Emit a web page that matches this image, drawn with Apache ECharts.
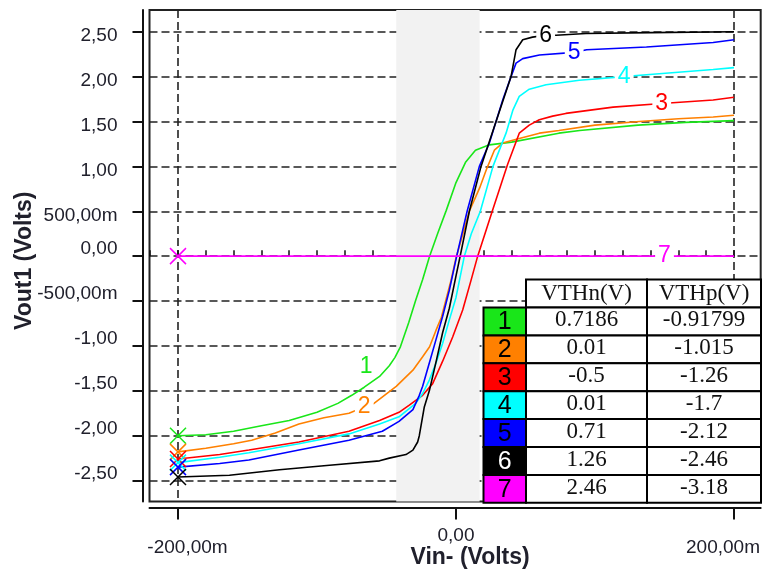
<!DOCTYPE html>
<html>
<head>
<meta charset="utf-8">
<script src="https://cdn.jsdelivr.net/npm/echarts@6/dist/echarts.min.js"></script>
<style>
html, body { margin: 0; padding: 0; background: #fff; }
#chart { width: 762px; height: 571px; }
</style>
</head>
<body>
<div id="chart"></div>
<script>
// Transfer curves Vout1 vs Vin- (Vin- in mV, Vout1 in V), one pair of arrays per threshold set
const vin1  = [-200,-180,-160,-140,-120,-100,-85,-75,-66,-55,-48,-44,-40,-34,-29,-24,-19,-13,-7,0,7,14,24,40,74,89,131,165,200];
const vout1 = [-2.00,-1.99,-1.95,-1.89,-1.83,-1.74,-1.64,-1.55,-1.46,-1.34,-1.22,-1.13,-1.01,-0.74,-0.49,-0.26,0.00,0.26,0.51,0.82,1.05,1.18,1.24,1.27,1.37,1.40,1.46,1.49,1.51];

const vin2  = [-200,-180,-160,-147,-130,-113,-95,-77,-66,-59,-43,-31,-24,-19,-14.5,-10.5,-3.6,0,9.6,17,22,27.6,33.5,45.5,60,74,100,132,160,185,200];
const vout2 = [-2.18,-2.14,-2.09,-2.05,-1.97,-1.87,-1.80,-1.75,-1.68,-1.64,-1.45,-1.27,-1.12,-1.01,-0.83,-0.68,-0.27,-0.02,0.50,0.76,0.97,1.18,1.26,1.31,1.37,1.40,1.46,1.50,1.53,1.55,1.57];

const vin3  = [-200,-170,-149,-113,-77,-55,-41,-33.6,-24,-16.8,-9.6,-2.4,4.8,10.8,15.6,26.3,37.1,45.5,52.7,59.9,69.5,79,113,148,185,200];
const vout3 = [-2.26,-2.21,-2.16,-2.07,-1.95,-1.83,-1.74,-1.66,-1.55,-1.42,-1.17,-0.90,-0.60,-0.27,0.00,0.51,1.02,1.37,1.46,1.52,1.56,1.59,1.66,1.70,1.74,1.77];

const vin4  = [-200,-170,-149,-113,-77,-55,-41,-29,-24,-19.2,-14.4,-9.6,-4.8,0,6,11,17.5,26.6,36,41,45.5,52.7,64.8,88.7,121,137,185,200];
const vout4 = [-2.30,-2.24,-2.19,-2.09,-1.98,-1.87,-1.79,-1.64,-1.53,-1.38,-1.19,-0.97,-0.71,-0.46,0.00,0.25,0.50,1.00,1.37,1.63,1.78,1.86,1.91,1.96,2.00,2.02,2.08,2.10];

const vin5  = [-200,-170,-149,-113,-77,-53,-41,-31,-26.4,-24,-19.2,-14.4,-9.6,-4.8,0.5,8,16.8,24,28.8,33.6,39.6,43.2,48,60,85,94,137,185,200];
const vout5 = [-2.35,-2.31,-2.27,-2.16,-2.05,-1.95,-1.84,-1.71,-1.55,-1.45,-1.19,-0.93,-0.67,-0.38,0.00,0.50,1.00,1.26,1.50,1.74,2.00,2.15,2.20,2.24,2.27,2.30,2.33,2.38,2.41];

const vin6  = [-200,-163,-127,-91,-55,-48,-36,-31,-27.6,-26.4,-22.8,-19.2,-14.4,-9.6,-4.8,0,3,9.6,18,28.8,39.6,43.2,48,55,64.5,72,93.5,140,200];
const vout6 = [-2.46,-2.44,-2.38,-2.33,-2.28,-2.25,-2.21,-2.16,-2.07,-2.00,-1.68,-1.50,-1.18,-0.85,-0.58,-0.22,0.00,0.50,1.00,1.50,2.00,2.30,2.41,2.44,2.46,2.46,2.48,2.49,2.50];

const vin7  = [-200,150,200];
const vout7 = [0,0,0];

const curveNames  = ['1','2','3','4','5','6','7'];
const curveColors = ['#19e619','#ff8000','#ff0000','#00ffff','#0000ff','#000000','#ff00ff'];
// index of the point where each curve carries its number
const labelAt = [8, 8, 23, 24, 24, 24, 1];

// Threshold table
const vthn = ['0.7186','0.01','-0.5','0.01','0.71','1.26','2.46'];
const vthp = ['-0.91799','-1.015','-1.26','-1.7','-2.12','-2.46','-3.18'];
const tableHeader = ['VTHn(V)','VTHp(V)'];

// Axes
const xTicks = [-200, 0, 200];
const xTickLabels = ['-200,00m', '0,00', '200,00m'];
const xMinorTicks = [-220,-200,-180,-160,-140,-120,-100,-80,-60,-40,-20,0,20,40,60,80,100,120,140,160,180,200];
const yTicks = [-2.5,-2,-1.5,-1,-0.5,0,0.5,1,1.5,2,2.5];
const yTickLabels = ['-2,50','-2,00','-1,50','-1,00','-500,00m','0,00','500,00m','1,00','1,50','2,00','2,50'];
const yMinorTicks = [-2.5,-2.25,-2,-1.75,-1.5,-1.25,-1,-0.75,-0.5,-0.25,0,0.25,0.5,0.75,1,1.25,1.5,1.75,2,2.25,2.5];
const shadedBand = [-43, 17];

const curvesX = [vin1, vin2, vin3, vin4, vin5, vin6, vin7];
const curvesY = [vout1, vout2, vout3, vout4, vout5, vout6, vout7];

const SANS = '"Liberation Sans", Arial, sans-serif';
const SERIF = '"Liberation Serif", "Times New Roman", serif';
const INK = '#20202c';

const X_RANGE = { min: -220.5, max: 219.2 };
const Y_RANGE = { min: -2.733, max: 2.742 };

const crossSymbol = 'path://M0,0L10,10M10,0L0,10';

const series = curvesX.map(function (xs, k) {
  const color = curveColors[k];
  const data = xs.map(function (x, i) {
    const item = { value: [x, curvesY[k][i]] };
    if (i === labelAt[k]) {
      item.label = {
        show: true,
        position: 'inside',
        formatter: curveNames[k],
        color: color,
        fontFamily: SANS,
        fontSize: 23,
        backgroundColor: k === 0 ? 'transparent' : '#fff',
        padding: [0, 3],
        offset: k === 0 ? [2, -21] : [0, 0]
      };
    }
    return item;
  });
  return {
    type: 'line',
    data: data,
    z: 3,
    symbol: crossSymbol,
    symbolSize: function (v, p) { return p.dataIndex === 0 ? 16 : 0; },
    showSymbol: true,
    showAllSymbol: true,
    itemStyle: { color: color, borderColor: color, borderWidth: 1.5 },
    lineStyle: { color: color, width: 1.6 },
    emphasis: { disabled: true },
    label: { show: false }
  };
});

// Light grey band behind the switching region
series.unshift({
  type: 'line',
  data: [],
  z: -1,
  silent: true,
  markArea: {
    silent: true,
    itemStyle: { color: '#f2f2f2' },
    data: [[{ xAxis: shadedBand[0] }, { xAxis: shadedBand[1] }]]
  }
});

function yLabel(v) {
  const i = yTicks.findIndex(function (t) { return Math.abs(t - v) < 1e-9; });
  if (i < 0) return '';
  return (v > 0 ? '{p|' : '{n|') + yTickLabels[i] + '}';
}
function xLabel(v) {
  const i = xTicks.findIndex(function (t) { return Math.abs(t - v) < 1e-9; });
  if (i < 0) return '';
  const key = i === 0 ? 'l' : (i === xTicks.length - 1 ? 'r' : 'c');
  return '{' + key + '|' + xTickLabels[i] + '}';
}

const labelText = { fontFamily: SANS, fontSize: 19, color: INK };
const gridLine = { show: true, lineStyle: { color: '#222', width: 1.6, type: [8, 4] } };

// Table of thresholds, drawn over the lower right of the plot
const T = { colLeft: 483.5, col1: 526, col2: 647, right: 761, headTop: 279.5, rowTop: 307.5, rowH: 27.9 };
const tableEls = [];
const border = { stroke: '#000', lineWidth: 2 };
function cell(x, y, w, h, fill) {
  tableEls.push({ type: 'rect', z: 100, shape: { x: x, y: y, width: w, height: h }, style: Object.assign({ fill: fill }, border) });
}
function text(x, y, str, font, fill) {
  tableEls.push({ type: 'text', z: 101, style: { x: x, y: y, text: str, font: font, fill: fill, align: 'center', verticalAlign: 'middle' } });
}
cell(T.col1, T.headTop, T.col2 - T.col1, T.rowTop - T.headTop, '#fff');
cell(T.col2, T.headTop, T.right - T.col2, T.rowTop - T.headTop, '#fff');
text((T.col1 + T.col2) / 2, (T.headTop + T.rowTop) / 2, tableHeader[0], '23px ' + SERIF, '#111');
text((T.col2 + T.right) / 2, (T.headTop + T.rowTop) / 2, tableHeader[1], '23px ' + SERIF, '#111');
curveNames.forEach(function (name, r) {
  const y = T.rowTop + r * T.rowH;
  const cy = y + T.rowH / 2;
  cell(T.colLeft, y, T.col1 - T.colLeft, T.rowH, curveColors[r]);
  cell(T.col1, y, T.col2 - T.col1, T.rowH, '#fff');
  cell(T.col2, y, T.right - T.col2, T.rowH, '#fff');
  text((T.colLeft + T.col1) / 2, cy + 1, name, '25px ' + SANS, r === 5 ? '#fff' : '#000');
  text((T.col1 + T.col2) / 2, cy - 1, vthn[r], '23px ' + SERIF, '#111');
  text((T.col2 + T.right) / 2, cy - 1, vthp[r], '23px ' + SERIF, '#111');
});

const option = {
  animation: false,
  backgroundColor: '#fff',
  grid: {
    left: 149.5, top: 10, right: 1.3, bottom: 69.5,
    outerBoundsMode: 'none', containLabel: false,
    show: true, borderColor: '#222', borderWidth: 2, backgroundColor: 'transparent'
  },
  xAxis: [
    {
      type: 'value', min: X_RANGE.min, max: X_RANGE.max, offset: 6,
      axisLine: { show: true, onZero: false, lineStyle: { color: '#111', width: 2 } },
      axisTick: { show: true, customValues: xTicks, length: 12, lineStyle: { color: '#111', width: 2 } },
      axisLabel: Object.assign({
        customValues: xTicks, margin: 19, formatter: xLabel,
        rich: {
          l: Object.assign({ padding: [12, 0, 0, 19] }, labelText),
          c: Object.assign({ padding: [0, 0, 0, 0] }, labelText),
          r: Object.assign({ padding: [12, 22, 0, 0] }, labelText)
        }
      }, labelText),
      splitLine: gridLine,
      name: 'Vin- (Volts)', nameLocation: 'middle', nameGap: 39, nameMoveOverlap: false,
      nameTextStyle: { fontFamily: SANS, fontSize: 23, fontWeight: 'bold', color: INK, padding: [0, 0, 0, 30] }
    },
    {
      type: 'value', min: X_RANGE.min, max: X_RANGE.max, offset: 6,
      axisLine: { show: false },
      axisTick: { show: true, customValues: xMinorTicks, length: 6, lineStyle: { color: '#111', width: 1.5 } },
      axisLabel: { show: false }, splitLine: { show: false }
    }
  ],
  yAxis: [
    {
      type: 'value', min: Y_RANGE.min, max: Y_RANGE.max, offset: 7,
      axisLine: { show: true, onZero: false, lineStyle: { color: '#111', width: 2 } },
      axisTick: { show: true, customValues: yTicks, length: 10, lineStyle: { color: '#111', width: 2 } },
      axisLabel: Object.assign({
        customValues: yTicks, margin: 25, formatter: yLabel,
        rich: {
          p: Object.assign({ lineHeight: 27, verticalAlign: 'bottom' }, labelText),
          n: Object.assign({ padding: [0, 0, 14, 0] }, labelText)
        }
      }, labelText),
      splitLine: gridLine,
      name: 'Vout1 (Volts)', nameLocation: 'middle', nameGap: 106, nameRotate: 90, nameMoveOverlap: false,
      nameTextStyle: { fontFamily: SANS, fontSize: 23, fontWeight: 'bold', color: INK, padding: [0, 10, 0, 0] }
    },
    {
      type: 'value', min: Y_RANGE.min, max: Y_RANGE.max, offset: 7,
      axisLine: { show: false },
      axisTick: { show: true, customValues: yMinorTicks, length: 5, lineStyle: { color: '#111', width: 1.5 } },
      axisLabel: { show: false }, splitLine: { show: false }
    }
  ],
  series: series,
  graphic: { elements: [{ type: 'group', z: 100, children: tableEls }] }
};

const chart = echarts.init(document.getElementById('chart'), null, { renderer: 'canvas' });
chart.setOption(option);
</script>
</body>
</html>
